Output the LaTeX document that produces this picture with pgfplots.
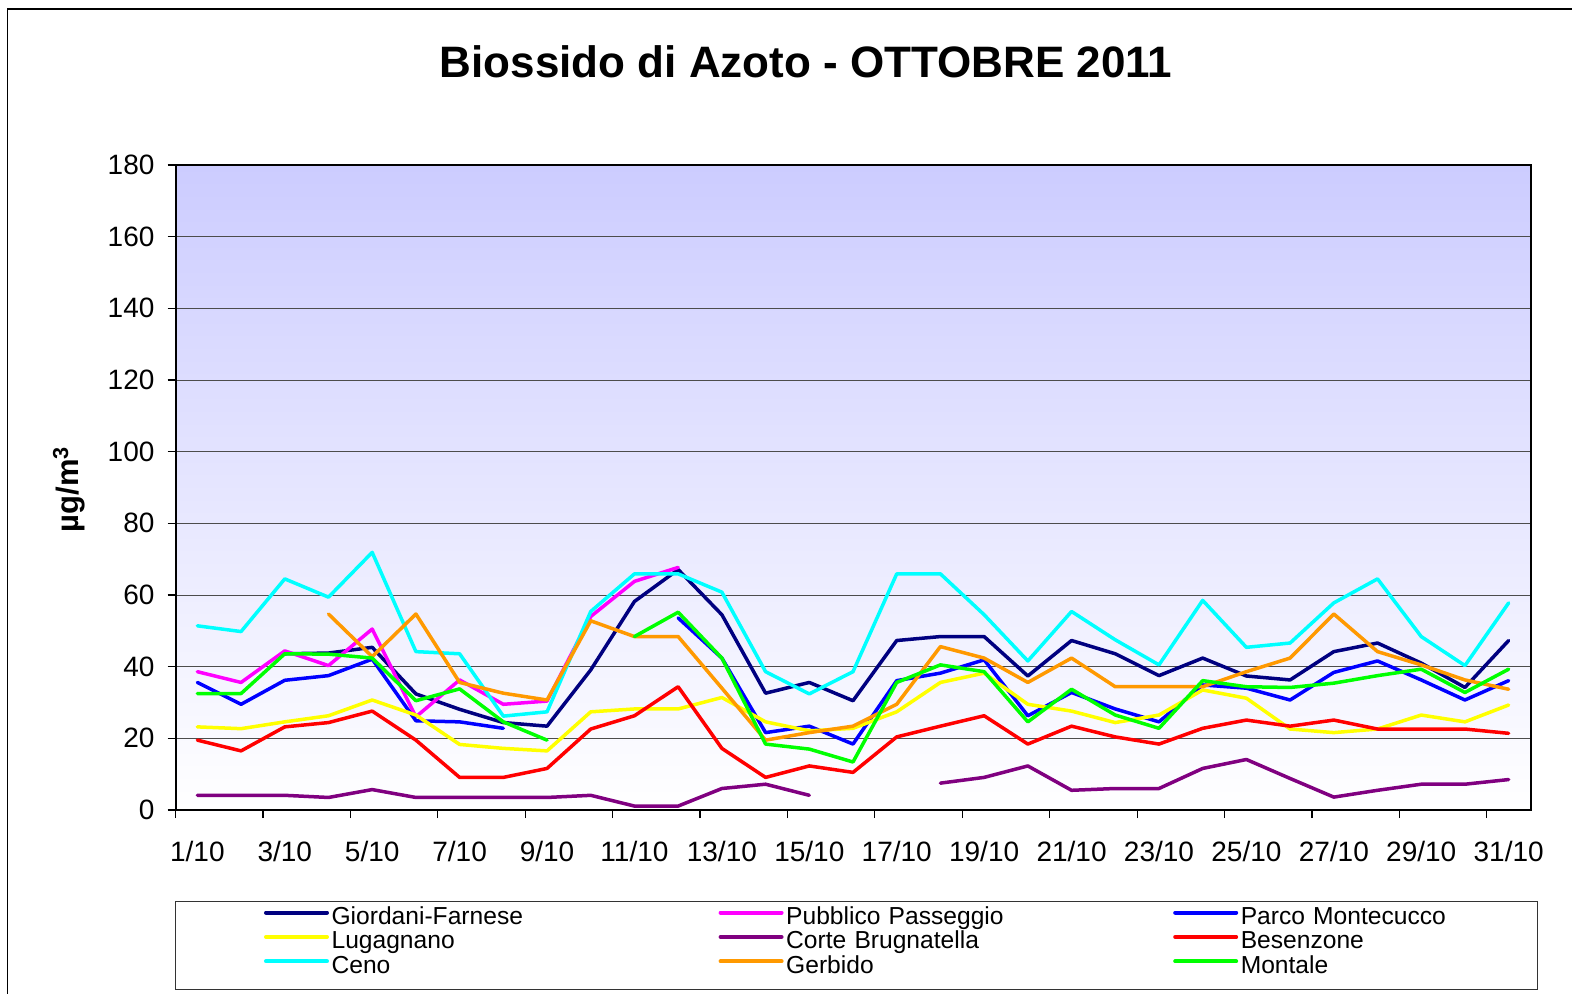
\documentclass[border=0pt]{standalone}
\usepackage{fontspec}
\setmainfont{Liberation Sans}
\usepackage{pgfplots}
\pgfplotsset{compat=1.18}
\usepackage{pgfplotstable}
\definecolor{cNavy}{RGB}{0,0,128}
\definecolor{cMag}{RGB}{255,0,255}
\definecolor{cBlue}{RGB}{0,0,255}
\definecolor{cYel}{RGB}{255,255,0}
\definecolor{cPur}{RGB}{128,0,128}
\definecolor{cRed}{RGB}{255,0,0}
\definecolor{cCyan}{RGB}{0,255,255}
\definecolor{cOra}{RGB}{255,153,0}
\definecolor{cGre}{RGB}{0,255,0}
\definecolor{cLav}{RGB}{204,204,255}

\pgfplotstableread{
d  GF   PP   PM   LU   CB   BE   CE   GE   MO
1  nan  38.6 35.6 23.2 4.1  19.5 51.4 nan  32.5
2  nan  35.6 29.5 22.7 4.1  16.5 49.8 nan  32.5
3  43.6 44.4 36.2 24.6 4.1  23.2 64.5 nan  43.6
4  43.8 40.3 37.5 26.3 3.5  24.4 59.4 54.7 43.5
5  45.4 50.5 42.1 30.7 5.7  27.6 71.9 42.8 42.4
6  32.4 26.0 24.9 26.5 3.5  19.5 44.2 54.7 30.5
7  28.1 36.3 24.6 18.3 3.5  9.1  43.6 35.6 33.8
8  24.4 29.5 22.8 17.2 3.5  9.1  26.2 32.6 24.6
9  23.4 30.4 nan  16.5 3.5  11.6 27.4 30.7 19.5
10 39.1 54.0 nan  27.4 4.1  22.6 55.4 52.8 nan
11 58.2 63.8 nan  28.2 1.1  26.3 65.9 48.4 48.4
12 67.1 67.7 53.6 28.2 1.1  34.4 65.9 48.4 55.2
13 54.5 nan  42.4 31.4 6.0  17.2 60.8 34.0 42.4
14 32.6 nan  21.6 24.6 7.2  9.1  38.6 19.5 18.4
15 35.6 nan  23.4 22.1 4.1  12.3 32.4 21.6 17.0
16 30.5 nan  18.4 22.8 nan  10.5 38.6 23.4 13.4
17 47.3 nan  36.1 27.4 nan  20.4 65.9 29.5 35.6
18 48.4 nan  38.2 35.6 7.5  23.4 65.9 45.6 40.5
19 48.4 nan  41.9 38.2 9.1  26.3 54.5 42.4 38.6
20 37.4 nan  26.3 29.5 12.3 18.4 41.6 35.6 24.6
21 47.3 nan  32.8 27.6 5.5  23.4 55.4 42.4 33.7
22 43.6 nan  28.2 24.4 6.0  20.4 47.5 34.4 26.5
23 37.5 nan  24.6 26.5 6.0  18.4 40.5 34.4 22.8
24 42.4 nan  34.9 33.5 11.6 22.8 58.5 34.4 36.1
25 37.4 nan  34.0 31.2 14.1 25.1 45.4 38.6 34.4
26 36.3 nan  30.7 22.6 8.8  23.4 46.6 42.4 34.2
27 44.2 nan  38.4 21.6 3.6  25.1 57.8 54.7 35.4
28 46.6 nan  41.6 22.6 5.5  22.6 64.5 44.2 37.5
29 41.0 nan  36.3 26.5 7.2  22.6 48.4 40.5 39.3
30 34.2 nan  30.7 24.6 7.2  22.6 40.3 36.3 32.8
31 47.3 nan  36.1 29.3 8.5  21.4 57.8 33.7 39.3
}\data

\begin{document}
\begin{tikzpicture}
\useasboundingbox (0,0) rectangle (786pt,496.5pt);
\draw[line width=0.8pt] (3.75pt,-10pt) -- (3.75pt,492pt) -- (800pt,492pt);
\node[font=\bfseries\fontsize{22}{26}\selectfont] at (403pt,465.5pt) {Biossido di Azoto - OTTOBRE 2011};
\begin{axis}[
  at={(87.75pt,91.5pt)}, anchor=south west,
  scale only axis, width=677.5pt, height=322.5pt,
  xmin=0.5, xmax=31.5, ymin=0, ymax=180,
  axis background/.style={top color=cLav, bottom color=white},
  axis line style={black, line width=1pt},
  ytick={0,20,...,180},
  ymajorgrids,
  major grid style={black!70, line width=0.5pt},
  tick align=outside,
  xtick pos=bottom, ytick pos=left,
  tick style={black, line width=0.6pt},
  major tick length=4pt,
  xtick={0.5,2.5,...,30.5},
  xticklabels={},
  extra x ticks={1,3,...,31},
  extra x tick labels={1/10,3/10,5/10,7/10,9/10,11/10,13/10,15/10,17/10,19/10,21/10,23/10,25/10,27/10,29/10,31/10},
  extra x tick style={major tick length=0pt, xticklabel style={yshift=-12pt}},
  ticklabel style={font=\fontsize{14}{16}\selectfont},
  yticklabel style={xshift=-3pt},
  /pgf/number format/assume math mode=true,
  ylabel={\textbf{µg/m\textsuperscript{3}}},
  ylabel style={at={(axis description cs:-0.0785,0.4977)}, anchor=center, font=\fontsize{15.5}{17}\selectfont},
  unbounded coords=jump,
  every axis plot/.append style={line width=1.75pt, line cap=round, line join=round, mark=none},
  legend columns=3,
  legend style={draw=none, fill=none, at={(axis description cs:0.0653,-0.1493)}, anchor=north west,
    inner sep=0pt, outer sep=0pt, row sep=0pt, column sep=0pt,
    nodes={font=\fontsize{12.3}{14}\selectfont, text height=9pt, text depth=3.2pt, inner sep=0pt, text width=193.5pt, align=left},
    /tikz/every odd column/.append style={column sep=1.3pt}},
  legend image code/.code={\draw[#1,line width=2pt] (0pt,3pt) -- (30.5pt,3pt);},
]
\addplot[cNavy] table[x=d,y=GF]{\data};
\addlegendentry{Giordani-Farnese}
\addplot[cMag] table[x=d,y=PP]{\data};
\addlegendentry{Pubblico Passeggio}
\addplot[cBlue] table[x=d,y=PM]{\data};
\addlegendentry{Parco Montecucco}
\addplot[cYel] table[x=d,y=LU]{\data};
\addlegendentry{Lugagnano}
\addplot[cPur] table[x=d,y=CB]{\data};
\addlegendentry{Corte Brugnatella}
\addplot[cRed] table[x=d,y=BE]{\data};
\addlegendentry{Besenzone}
\addplot[cCyan] table[x=d,y=CE]{\data};
\addlegendentry{Ceno}
\addplot[cOra] table[x=d,y=GE]{\data};
\addlegendentry{Gerbido}
\addplot[cGre] table[x=d,y=MO]{\data};
\addlegendentry{Montale}
\end{axis}
\draw[black!80, line width=0.5pt] (87.5pt,2pt) rectangle (768.5pt,46pt);
\end{tikzpicture}
\end{document}
